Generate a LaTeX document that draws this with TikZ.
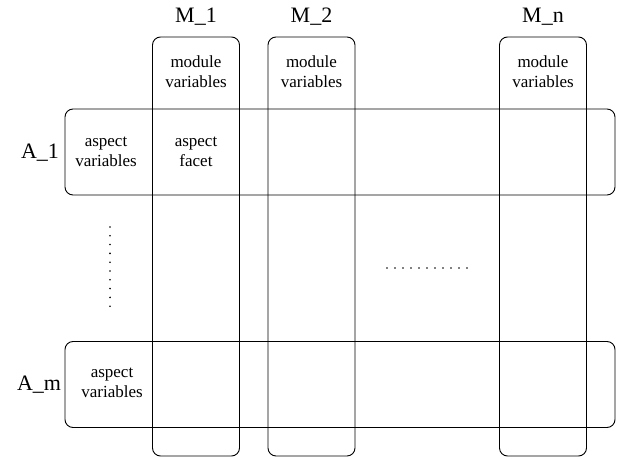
\documentclass[tikz,border=0pt]{standalone}
\usepackage{fontspec}
\setmainfont{Liberation Serif}
\usetikzlibrary{positioning}
\tikzset{column/.style={
            draw,
            line width=0.9pt,
            rounded corners=8pt,
            inner sep=0pt,
            minimum width=87pt,
            minimum height=419pt
        },
        aspectrow/.style={
            draw,
            line width=0.9pt,
            rounded corners=8pt,
            inner sep=0pt,
            minimum width=550pt,
            minimum height=86pt
        },
        cell/.style={
            align=center,
            font=\fontsize{17}{20}\selectfont
        },
        heading/.style={
            anchor=base,
            font=\fontsize{22}{26}\selectfont
        },
        dot/.style={
            fill,
            circle,
            inner sep=0pt,
            minimum size=1.8pt
        }
    }
\begin{document}
\begin{tikzpicture}[x=1pt,y=1pt]
        \useasboundingbox (0,0) rectangle (621,458);

        % module columns
        \node[column] at (196,211.5) (mod1) {};
        \node[column] at (311.5,211.5) (mod2) {};
        \node[column] at (543,211.5) (modn) {};

        % aspect rows
        \node[aspectrow] at (340,306) (asp1) {};
        \node[aspectrow] at (340,73.5) (aspm) {};

        \node[heading] at (196,435) (mod1lbl) {M\_1};
        \node[heading] at (311.5,435) (mod2lbl) {M\_2};
        \node[heading] at (543,435) (modnlbl) {M\_n};
        \node[heading] at (40,299.5) (asp1lbl) {A\_1};
        \node[heading] at (39,67) (aspmlbl) {A\_m};

        \node[cell] at (196,386) (mod1var) {module\\variables};
        \node[cell] at (311.5,386) (mod2var) {module\\variables};
        \node[cell] at (543,386) (modnvar) {module\\variables};
        \node[cell] at (106,306) (asp1var) {aspect\\variables};
        \node[cell] at (196,306) (facet) {aspect\\facet};
        \node[cell] at (112,75) (aspmvar) {aspect\\variables};

        \foreach \i in {0,...,9}
            \node[dot] at (110,231-8.8*\i) {};
        \foreach \i in {0,...,10}
            \node[dot] at (387+8*\i,190) {};

    \end{tikzpicture}
\end{document}
